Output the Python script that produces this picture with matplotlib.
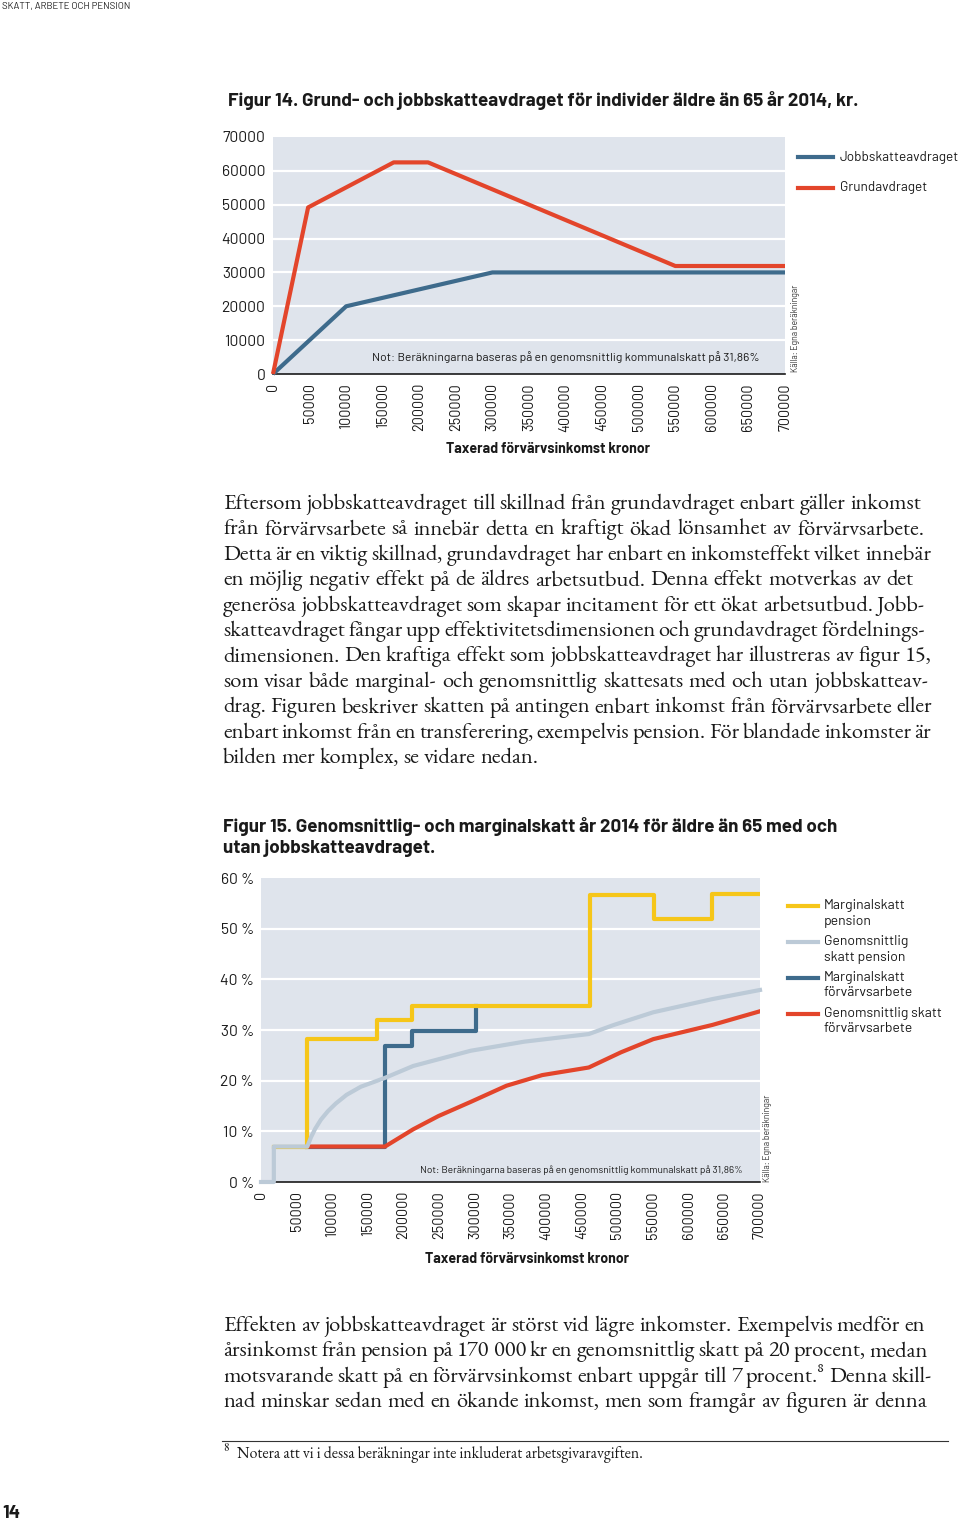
import matplotlib
matplotlib.use("Agg")
import matplotlib.pyplot as plt
import numpy as np

# ---------------- data ----------------
# Figure 14
inc_grund = [0, 48000, 165000, 212000, 550000, 700000]
val_grund = [0, 49200, 62500, 62500, 31900, 31900]
inc_jobb = [0, 100000, 300000, 700000]
val_jobb = [0, 20000, 30000, 30000]
fig14_yticks = [0, 10000, 20000, 30000, 40000, 50000, 60000, 70000]
xticks_inc = list(range(0, 700001, 50000))

# Figure 15 (percent)
inc_marg_pens = [18000, 65000, 163000, 212000, 461000, 552000, 633000, 700000]
val_marg_pens = [7.0, 28.2, 31.9, 34.8, 56.6, 51.9, 56.9, 56.9]
inc_avg_pens = [0, 18000, 18000, 65000, 70000, 76000, 84000, 94000, 105000, 120000, 140000,
                173000, 213500, 294000, 369400, 459800, 495000, 550300, 633200, 700000]
val_avg_pens = [0, 0, 7.0, 7.0, 8.8, 10.5, 12.3, 14.0, 15.5, 17.2, 18.8,
                20.5, 22.9, 25.9, 27.7, 29.2, 31.0, 33.5, 36.1, 37.9]
inc_marg_arb = [65000, 174000, 212000, 301000]
val_marg_arb = [7.0, 26.9, 29.8, 34.8]
inc_avg_arb = [65000, 174000, 213500, 248700, 294000, 344300, 394500, 459800,
               505000, 550300, 633200, 700000]
val_avg_arb = [7.0, 7.0, 10.4, 13.0, 15.8, 19.0, 21.1, 22.6, 25.6, 28.2, 31.0, 33.7]
fig15_yticks = [0, 10, 20, 30, 40, 50, 60]

legend14 = ["Jobbskatteavdraget", "Grundavdraget"]
legend15 = [("Marginalskatt", "pension"), ("Genomsnittlig", "skatt pension"),
            ("Marginalskatt", "förvärvsarbete"), ("Genomsnittlig skatt", "förvärvsarbete")]

para1 = [
    "Eftersom jobbskatteavdraget till skillnad från grundavdraget enbart gäller inkomst",
    "från förvärvsarbete så innebär detta en kraftigt ökad lönsamhet av förvärvsarbete.",
    "Detta är en viktig skillnad, grundavdraget har enbart en inkomsteffekt vilket innebär",
    "en möjlig negativ effekt på de äldres arbetsutbud. Denna effekt motverkas av det",
    "generösa jobbskatteavdraget som skapar incitament för ett ökat arbetsutbud. Jobb-",
    "skatteavdraget fångar upp effektivitetsdimensionen och grundavdraget fördelnings-",
    "dimensionen. Den kraftiga effekt som jobbskatteavdraget har illustreras av figur 15,",
    "som visar både marginal- och genomsnittlig skattesats med och utan jobbskatteav-",
    "drag. Figuren beskriver skatten på antingen enbart inkomst från förvärvsarbete eller",
    "enbart inkomst från en transferering, exempelvis pension. För blandade inkomster är",
    "bilden mer komplex, se vidare nedan.",
]
para1_right = [921, 924, 931, 913, 925, 925, 932, 928, 932, 931, None]
para2 = [
    "Effekten av jobbskatteavdraget är störst vid lägre inkomster. Exempelvis medför en",
    "årsinkomst från pension på 170 000 kr en genomsnittlig skatt på 20 procent, medan",
    "motsvarande skatt på en förvärvsinkomst enbart uppgår till 7 procent.⁸ Denna skill-",
    "nad minskar sedan med en ökande inkomst, men som framgår av figuren är denna",
]
para2_right = [925, 928, 932, 927]

# ---------------- style ----------------
W, H = 960, 1521
SANS = ["Barlow", "DejaVu Sans"]
SERIF = ["EB Garamond", "DejaVu Serif"]
BG = "#dfe4ec"
C_BLUE = "#3e6b8c"
C_RED = "#e3452b"
C_YEL = "#f6c619"
C_GREY = "#bccad7"
TXT = "#1a1a1a"
TW = 700  # title weight

plt.rcParams["font.family"] = SANS

fig = plt.figure(figsize=(W / 100, H / 100), dpi=100)
renderer = fig.canvas.get_renderer()


def fx(x):
    return x / W


def fy(y):
    return 1 - y / H


def width_px(s, size, **kw):
    t = fig.text(0, 0, s, fontsize=size, **kw)
    w = t.get_window_extent(renderer).width
    t.remove()
    return w


def fit(s, target, **kw):
    return 10 * target / width_px(s, 10, **kw)


def add_axes(l, t, r, b):
    return fig.add_axes([fx(l), fy(b), (r - l) / W, (b - t) / H])


tick_fs = fit("70000", 43, family=SANS)
xtick_fs = fit("700000", 48, family=SANS)
note_fs = fit("Not: Beräkningarna baseras på en genomsnittlig kommunalskatt på 31,86%", 388, family=SANS)
note2_fs = fit("Not: Beräkningarna baseras på en genomsnittlig kommunalskatt på 31,86%", 324, family=SANS)
kalla_fs = fit("Källa: Egna beräkningar", 88, family=SANS)
leg_fs = fit("Jobbskatteavdraget", 119, family=SANS)
leg2_fs = fit("Genomsnittlig skatt", 118, family=SANS)
xlab_fs = fit("Taxerad förvärvsinkomst kronor", 204, family=SANS, weight=TW)
title_fs = fit("Figur 14. Grund- och jobbskatteavdraget för individer äldre än 65 år 2014, kr.", 630,
               family=SANS, weight=TW)
body_fs = fit("bilden mer komplex, se vidare nedan.", 316, family=SERIF)
foot_fs = fit("Notera att vi i dessa beräkningar inte inkluderat arbetsgivaravgiften.", 405, family=SERIF)
head_fs = fit("SKATT, ARBETE OCH PENSION", 128, family=SANS)
page_fs = fit("14", 18, family=SANS, weight="bold")


def style_axes(ax, yticks, ylabels, ypad, xpad):
    ax.set_facecolor(BG)
    for s in ["top", "right", "left"]:
        ax.spines[s].set_visible(False)
    ax.spines["bottom"].set_color("#1a1a1a")
    ax.spines["bottom"].set_linewidth(1.2)
    ax.set_xlim(0, 700000)
    ax.set_xticks(xticks_inc)
    ax.set_xticklabels([str(v) for v in xticks_inc], rotation=90, fontsize=xtick_fs, color=TXT)
    ax.set_yticks(yticks)
    ax.set_yticklabels(ylabels, fontsize=tick_fs, color=TXT)
    ax.tick_params(axis="both", length=0)
    ax.tick_params(axis="y", pad=ypad)
    ax.tick_params(axis="x", pad=xpad)
    for v in yticks[1:-1]:
        ax.axhline(v, color="white", lw=1.6, zorder=0.5)


# ---------------- Figure 14 ----------------
ax1 = add_axes(273, 137, 785, 374)
ax1.set_ylim(0, 70000)
style_axes(ax1, fig14_yticks, [str(v) for v in fig14_yticks], 5.5, 6.5)
ax1.plot(inc_jobb, val_jobb, color=C_BLUE, lw=3.0, solid_capstyle="butt", zorder=3, clip_on=False)
ax1.plot(inc_grund, val_grund, color=C_RED, lw=3.0, solid_capstyle="butt", zorder=4, clip_on=False)
ax1.text(0.95, 0.07, "Not: Beräkningarna baseras på en genomsnittlig kommunalskatt på 31,86%",
         transform=ax1.transAxes, ha="right", va="center", fontsize=note_fs, color=TXT)

fig.text(fx(228), fy(101), "Figur 14. Grund- och jobbskatteavdraget för individer äldre än 65 år 2014, kr.",
         fontsize=title_fs, weight=TW, ha="left", va="center", color=TXT)
fig.text(fx(548), fy(449), "Taxerad förvärvsinkomst kronor", fontsize=xlab_fs, weight=TW,
         ha="center", va="center", color=TXT)
fig.text(fx(795), fy(328), "Källa: Egna beräkningar", rotation=90, fontsize=kalla_fs,
         ha="center", va="center", color="#333333")

for (lab, col, yy) in zip(legend14, [C_BLUE, C_RED], [157, 188]):
    fig.add_artist(plt.Line2D([fx(798), fx(833)], [fy(yy), fy(yy)], color=col, lw=3.0,
                              transform=fig.transFigure))
    fig.text(fx(840), fy(yy), lab, fontsize=leg_fs, ha="left", va="center", color=TXT)

# ---------------- Figure 15 ----------------
ax2 = add_axes(261, 878, 760, 1182)
ax2.set_ylim(0, 60)
style_axes(ax2, fig15_yticks, [f"{v} %" for v in fig15_yticks], 5, 6.5)
ax2.plot(inc_marg_arb, val_marg_arb, color=C_BLUE, lw=3.0, drawstyle="steps-post", zorder=3)
ax2.plot(inc_avg_arb, val_avg_arb, color=C_RED, lw=3.0, zorder=4)
ax2.plot(inc_marg_pens, val_marg_pens, color=C_YEL, lw=3.0, drawstyle="steps-post", zorder=5)
ax2.plot(inc_avg_pens, val_avg_pens, color=C_GREY, lw=3.0, zorder=6, clip_on=False)
ax2.text(0.965, 0.04, "Not: Beräkningarna baseras på en genomsnittlig kommunalskatt på 31,86%",
         transform=ax2.transAxes, ha="right", va="center", fontsize=note2_fs, color=TXT)

fig.text(fx(223), fy(827), "Figur 15. Genomsnittlig- och marginalskatt år 2014 för äldre än 65 med och",
         fontsize=title_fs, weight=TW, ha="left", va="center", color=TXT)
fig.text(fx(223), fy(848), "utan jobbskatteavdraget.",
         fontsize=title_fs, weight=TW, ha="left", va="center", color=TXT)
fig.text(fx(527), fy(1259), "Taxerad förvärvsinkomst kronor", fontsize=xlab_fs, weight=TW,
         ha="center", va="center", color=TXT)
fig.text(fx(768), fy(1138), "Källa: Egna beräkningar", rotation=90, fontsize=kalla_fs,
         ha="center", va="center", color="#333333")

for (l1, l2), col, yy in zip(legend15, [C_YEL, C_GREY, C_BLUE, C_RED], [906, 942, 978, 1014]):
    fig.add_artist(plt.Line2D([fx(788), fx(818)], [fy(yy), fy(yy)], color=col, lw=3.0,
                              transform=fig.transFigure))
    fig.text(fx(824), fy(yy - 1), l1, fontsize=leg2_fs, ha="left", va="center", color=TXT)
    fig.text(fx(824), fy(yy + 15), l2, fontsize=leg2_fs, ha="left", va="center", color=TXT)

# ---------------- body text ----------------
def draw_line(s, x0, x1, ybase, size):
    words = s.split(" ")
    widths = [width_px(w, size, family=SERIF) for w in words]
    if x1 is not None and len(words) > 1:
        gap = (x1 - x0 - sum(widths)) / (len(words) - 1)
    else:
        gap = width_px("a a", size, family=SERIF) - width_px("aa", size, family=SERIF)
    x = x0
    for w, wd in zip(words, widths):
        fig.text(fx(x), fy(ybase), w, fontsize=size, family=SERIF, ha="left", va="baseline", color=TXT)
        x += wd + gap


for i, (s, r) in enumerate(zip(para1, para1_right)):
    draw_line(s, 223, r, 509 + 25.4 * i, body_fs)
for i, (s, r) in enumerate(zip(para2, para2_right)):
    draw_line(s, 223, r, 1331 + 25.4 * i, body_fs)

# footnote
fig.add_artist(plt.Line2D([fx(222), fx(948)], [fy(1441), fy(1441)], color="#333333", lw=0.8,
                          transform=fig.transFigure))
fig.text(fx(223), fy(1451), "8", fontsize=foot_fs * 0.7, family=SERIF, ha="left", va="baseline", color=TXT)
fig.text(fx(237), fy(1458), "Notera att vi i dessa beräkningar inte inkluderat arbetsgivaravgiften.",
         fontsize=foot_fs, family=SERIF, ha="left", va="baseline", color=TXT)

# header / page number
fig.text(fx(2), fy(6), "SKATT, ARBETE OCH PENSION", fontsize=head_fs, ha="left", va="center", color="#222222")
fig.text(fx(2), fy(1514), "14", fontsize=page_fs, weight="bold", ha="left", va="center", color=TXT)

fig.savefig("out.png", dpi=100, facecolor="white")
